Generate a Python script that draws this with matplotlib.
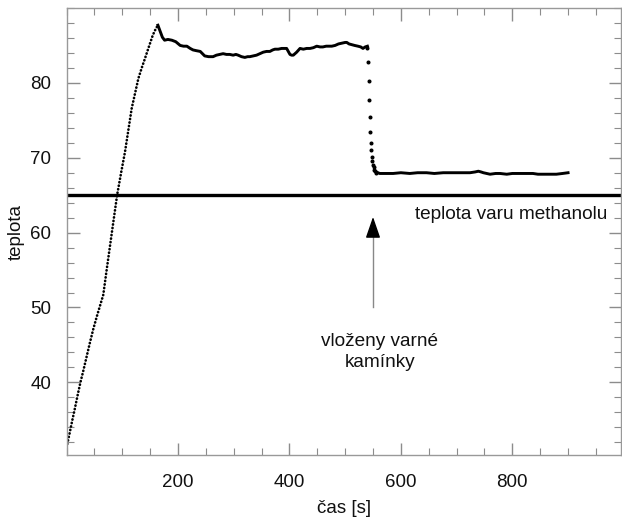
import matplotlib
matplotlib.use("Agg")
import matplotlib.pyplot as plt
from matplotlib.ticker import MultipleLocator

plt.rcParams["font.family"] = ["Liberation Sans", "DejaVu Sans"]

# heating ramp (s, deg C)
ramp_t = [0, 5, 10, 15, 20, 25, 30, 36, 42, 48, 54, 60, 66, 72, 78, 84, 91,
          98, 105, 111, 117, 123, 129, 135, 141, 145, 150, 155, 160, 164]
ramp_T = [31.3, 33.0, 34.8, 36.5, 38.3, 40.0, 41.5, 43.4, 45.3, 47.1, 48.7,
          50.2, 51.7, 55.0, 58.2, 61.4, 65.1, 68.0, 70.8, 73.7, 76.6, 78.6,
          80.6, 82.0, 83.3, 84.2, 85.3, 86.4, 87.2, 87.7]

# overheated plateau before boiling chips
hot_t = [164, 168, 172, 176, 182, 189, 196, 204, 210, 216, 222, 227, 233, 240,
         244, 248, 255, 263, 269, 275, 281, 287, 293, 299, 304, 308, 314, 320,
         325, 329, 335, 341, 347, 353, 359, 365, 370, 374, 380, 386, 391, 395,
         398, 401, 404, 407, 413, 419, 425, 431, 437, 443, 449, 455, 460, 466,
         471, 476, 482, 488, 494, 500, 503, 507, 512, 517, 523, 528, 532, 536, 540]
hot_T = [87.7, 86.9, 86.1, 85.7, 85.8, 85.7, 85.5, 85.0, 84.9, 84.9, 84.6, 84.4,
         84.3, 84.2, 83.9, 83.6, 83.5, 83.5, 83.7, 83.8, 83.9, 83.8, 83.8, 83.7,
         83.8, 83.7, 83.5, 83.4, 83.5, 83.5, 83.6, 83.7, 83.9, 84.1, 84.2, 84.2,
         84.4, 84.5, 84.5, 84.6, 84.6, 84.6, 84.2, 83.8, 83.7, 83.7, 84.1, 84.6,
         84.5, 84.6, 84.6, 84.7, 84.9, 84.8, 84.8, 84.9, 84.9, 84.9, 85.0, 85.2,
         85.3, 85.4, 85.4, 85.2, 85.1, 85.0, 84.9, 84.8, 84.6, 84.8, 84.9]

# fall after the chips were added
drop_t = [540, 541, 542, 543, 544, 545, 546, 547, 548, 549, 550, 551, 552, 554, 556]
drop_T = [84.6, 82.8, 80.3, 77.7, 75.5, 73.5, 72.0, 71.0, 70.1, 69.5, 69.0,
          68.7, 68.4, 68.2, 68.0]

# steady boiling
boil_t = [556, 562, 572, 586, 600, 616, 630, 646, 660, 676, 690, 706, 724, 733,
          739, 744, 748, 754, 760, 770, 778, 790, 800, 813, 825, 837, 846, 855,
          866, 879, 890, 900]
boil_T = [68.1, 67.9, 67.9, 67.9, 68.0, 67.9, 68.0, 68.0, 67.9, 68.0, 68.0,
          68.0, 68.0, 68.1, 68.2, 68.1, 68.0, 67.9, 67.8, 67.9, 67.9, 67.8,
          67.9, 67.9, 67.9, 67.9, 67.8, 67.8, 67.8, 67.8, 67.9, 68.0]

x_ticks = [200, 400, 600, 800]
y_ticks = [40, 50, 60, 70, 80]

BOILING_POINT = 65.0
CHIPS_TIME = 550

fig = plt.figure(figsize=(6.22, 5.21), dpi=100)
ax = fig.add_axes([66.5 / 622, 66 / 521, (621 - 66.5) / 622, (455 - 8) / 521])

ax.plot(ramp_t, ramp_T, color="black", lw=1.9, linestyle=(0, (0.1, 1.25)),
        dash_capstyle="round")
ax.plot(hot_t, hot_T, color="black", lw=2.1)
ax.plot(drop_t, drop_T, ls="none", marker="o", ms=1.9, color="black")
ax.plot(boil_t, boil_T, color="black", lw=2.1)

ax.axhline(BOILING_POINT, color="black", lw=2.4)
ax.text(971, 62.4, "teplota varu methanolu", ha="right", va="center",
        fontsize=13.7, color="#111111")

# arrow: grey shaft, black head
ax.plot([CHIPS_TIME, CHIPS_TIME], [50.1, 60.5], color="#888888", lw=1.0)
ax.annotate("", xy=(CHIPS_TIME, 62.1), xytext=(CHIPS_TIME, 60.0),
            arrowprops=dict(arrowstyle="-|>,head_length=1.3,head_width=0.45",
                            color="black", lw=1, shrinkA=0, shrinkB=0))
ax.text(562, 44.1, "vloženy varné\nkamínky", ha="center", va="center",
        fontsize=13.7, color="#111111", linespacing=1.3)

ax.set_xlim(0, 995)
ax.set_ylim(30.3, 90.0)
ax.set_xticks(x_ticks)
ax.set_yticks(y_ticks)
ax.xaxis.set_minor_locator(MultipleLocator(50))
ax.yaxis.set_minor_locator(MultipleLocator(2))

ax.tick_params(which="both", direction="in", top=True, right=True,
               color="#8c8c8c", labelsize=13.5, labelcolor="#111111")
ax.tick_params(which="major", length=9, width=1)
ax.tick_params(which="minor", length=5, width=0.8)
ax.tick_params(axis="y", pad=11)
ax.tick_params(axis="x", pad=14)
for side in ax.spines.values():
    side.set_color("#999999")
    side.set_linewidth(1.0)

ax.set_xlabel("čas [s]", fontsize=13.5, color="#111111", labelpad=6)
ax.set_ylabel("teplota", fontsize=13.5, color="#111111", labelpad=4)

fig.savefig("out.png", dpi=100)
